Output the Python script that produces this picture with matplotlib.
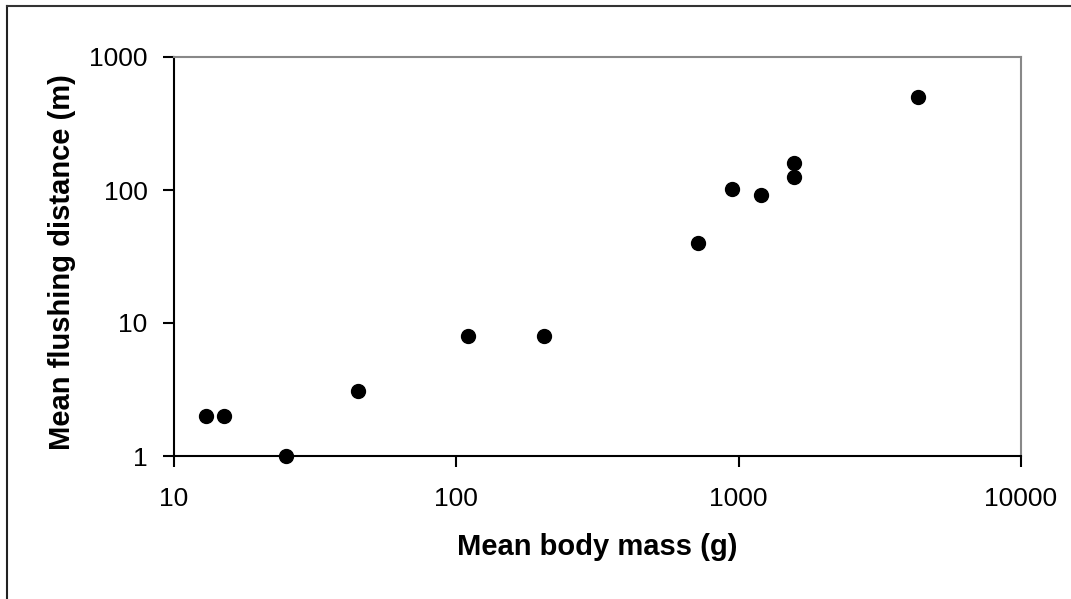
import matplotlib.pyplot as plt
from matplotlib.lines import Line2D
from matplotlib.ticker import FixedLocator, NullLocator

# mean body mass (g) and mean flushing distance (m) per species
body_mass = [13, 15, 25, 45, 110, 205, 720, 945, 1200, 1575, 1575, 4300]
flush_dist = [2, 2, 1, 3.1, 8, 8, 40, 102, 92, 160, 125, 500]

x_ticks = [10, 100, 1000, 10000]
y_ticks = [1, 10, 100, 1000]

plt.rcParams['font.family'] = ['Liberation Sans', 'DejaVu Sans']

fig = plt.figure(figsize=(10.71, 5.99), dpi=100)
ax = fig.add_axes([174 / 1071, 1 - 456 / 599, 847 / 1071, 399 / 599])

ax.scatter(body_mass, flush_dist, s=100, color='black', zorder=3, clip_on=False)

ax.set_xscale('log')
ax.set_yscale('log')
ax.set_xlim(10, 10000)
ax.set_ylim(1, 1000)

ax.xaxis.set_major_locator(FixedLocator(x_ticks))
ax.yaxis.set_major_locator(FixedLocator(y_ticks))
ax.xaxis.set_minor_locator(NullLocator())
ax.yaxis.set_minor_locator(NullLocator())
ax.set_xticklabels([str(t) for t in x_ticks])
ax.set_yticklabels([str(t) for t in y_ticks])
ax.tick_params(axis='x', length=8, width=1.5, pad=14, labelsize=19, direction='out')
ax.tick_params(axis='y', length=8, width=1.5, pad=11, labelsize=19, direction='out')

for side in ['left', 'bottom']:
    ax.spines[side].set_color('black')
    ax.spines[side].set_linewidth(1.5)
for side in ['top', 'right']:
    ax.spines[side].set_color('#888888')
    ax.spines[side].set_linewidth(1.5)

ax.set_xlabel('Mean body mass (g)', fontsize=21, fontweight='bold', labelpad=16)
ax.set_ylabel('Mean flushing distance (m)', fontsize=21, fontweight='bold')
ax.yaxis.set_label_coords(-0.116, 0.486)

# frame edges on the left and top of the figure
fig.add_artist(Line2D([7 / 1071, 7 / 1071], [0, 1 - 6 / 599], color='#222222', lw=1.5))
fig.add_artist(Line2D([7 / 1071, 1], [1 - 6 / 599, 1 - 6 / 599], color='#333333', lw=1.5))

fig.savefig('out.png', dpi=100)
